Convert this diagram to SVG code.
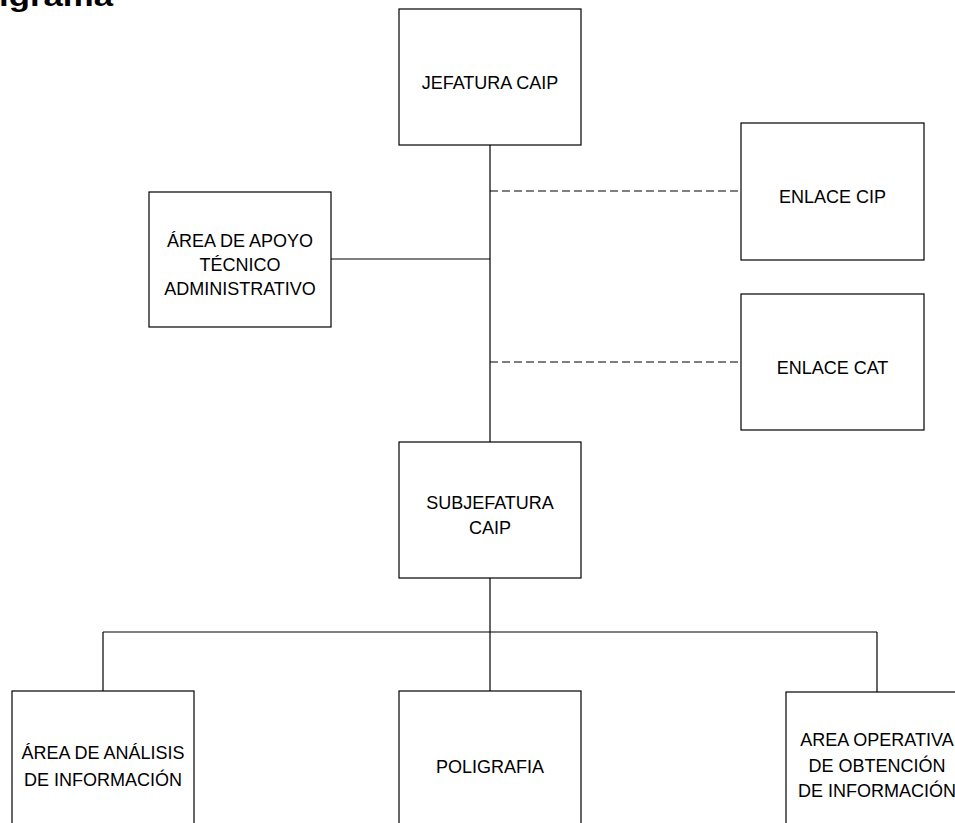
<svg xmlns="http://www.w3.org/2000/svg" width="955" height="823" viewBox="0 0 955 823">
<style>
.box{fill:#fff;stroke:#000;stroke-width:1.2}
.ln{fill:none;stroke:#000;stroke-width:1.2}
.dash{fill:none;stroke:#000;stroke-width:1.2;stroke-dasharray:8 4}
.t{font-family:"Liberation Sans",Arial,sans-serif;font-size:18px;fill:#000;text-anchor:middle}
.title{font-family:"Liberation Sans",Arial,sans-serif;font-size:28px;font-weight:bold;fill:#000}
</style>
<rect width="955" height="823" fill="#fff"/>
<text class="title" x="-1" y="6" textLength="114" lengthAdjust="spacingAndGlyphs">igrama</text>
<g id="connectors">
<line class="ln" x1="490" y1="145" x2="490" y2="442"/>
<line class="dash" x1="490" y1="191" x2="741" y2="191"/>
<line class="dash" x1="490" y1="362" x2="741" y2="362"/>
<line class="ln" x1="331" y1="259" x2="490" y2="259"/>
<line class="ln" x1="490" y1="578" x2="490" y2="691"/>
<line class="ln" x1="103" y1="632" x2="877" y2="632"/>
<line class="ln" x1="103" y1="632" x2="103" y2="691"/>
<line class="ln" x1="877" y1="632" x2="877" y2="692"/>
</g>
<g id="jefatura">
<rect class="box" x="399" y="9" width="182" height="136"/>
<text class="t" x="490" y="89">JEFATURA CAIP</text>
</g>
<g id="enlace-cip">
<rect class="box" x="741" y="123" width="183" height="137"/>
<text class="t" x="832.5" y="203">ENLACE CIP</text>
</g>
<g id="apoyo">
<rect class="box" x="149" y="192" width="182" height="135"/>
<text class="t" x="240" y="247">ÁREA DE APOYO</text>
<text class="t" x="240" y="271">TÉCNICO</text>
<text class="t" x="240" y="295">ADMINISTRATIVO</text>
</g>
<g id="enlace-cat">
<rect class="box" x="741" y="294" width="183" height="136"/>
<text class="t" x="832.5" y="374">ENLACE CAT</text>
</g>
<g id="subjefatura">
<rect class="box" x="399" y="442" width="182" height="136"/>
<text class="t" x="490" y="509">SUBJEFATURA</text>
<text class="t" x="490" y="534">CAIP</text>
</g>
<g id="analisis">
<rect class="box" x="12" y="691" width="182" height="145"/>
<text class="t" x="103" y="759">ÁREA DE ANÁLISIS</text>
<text class="t" x="103" y="786">DE INFORMACIÓN</text>
</g>
<g id="poligrafia">
<rect class="box" x="399" y="691" width="182" height="145"/>
<text class="t" x="490" y="773">POLIGRAFIA</text>
</g>
<g id="operativa">
<rect class="box" x="786" y="692" width="182" height="145"/>
<text class="t" x="877" y="746">AREA OPERATIVA</text>
<text class="t" x="877" y="772">DE OBTENCIÓN</text>
<text class="t" x="877" y="797">DE INFORMACIÓN</text>
</g>
</svg>
